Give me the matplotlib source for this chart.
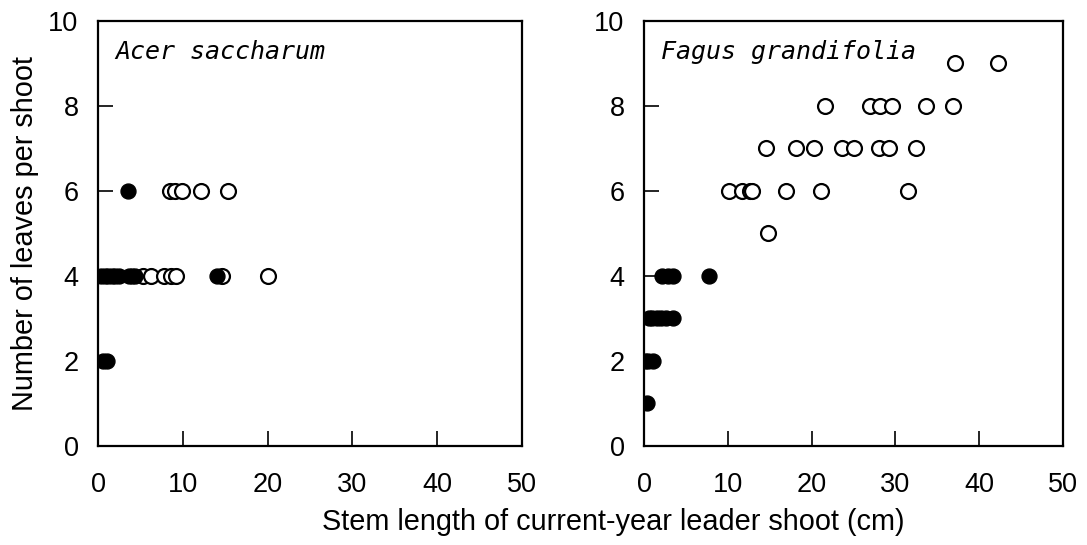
import numpy as np
import matplotlib
matplotlib.use("Agg")
import matplotlib.pyplot as plt

plt.rcParams['font.family'] = ['Liberation Sans', 'DejaVu Sans']

# Acer saccharum
acer_filled_x = [3.5, 0.4, 0.8, 1.2, 1.6, 2.0, 2.5, 3.6, 4.0, 4.4, 14.0, 0.6, 1.0]
acer_filled_y = [6, 4, 4, 4, 4, 4, 4, 4, 4, 4, 4, 2, 2]
acer_open_x = [8.5, 9.1, 9.9, 12.1, 15.3, 5.3, 6.3, 7.8, 8.6, 9.2, 14.6, 20.0]
acer_open_y = [6, 6, 6, 6, 6, 4, 4, 4, 4, 4, 4, 4]

# Fagus grandifolia
fagus_filled_x = [2.2, 2.8, 3.4, 7.7, 0.6, 1.0, 1.5, 2.0, 2.6, 3.5, 0.1, 0.5, 1.1, 0.3]
fagus_filled_y = [4, 4, 4, 4, 3, 3, 3, 3, 3, 3, 2, 2, 2, 1]
fagus_open_x = [37.1, 42.2,
                21.6, 27.0, 28.1, 29.6, 33.6, 36.9,
                14.5, 18.1, 20.3, 23.6, 25.1, 28.0, 29.2, 32.5,
                10.1, 11.7, 12.6, 12.9, 16.9, 21.1, 31.5,
                14.8]
fagus_open_y = [9, 9,
                8, 8, 8, 8, 8, 8,
                7, 7, 7, 7, 7, 7, 7, 7,
                6, 6, 6, 6, 6, 6, 6,
                5]

panels = [
    ("Acer saccharum", acer_filled_x, acer_filled_y, acer_open_x, acer_open_y),
    ("Fagus grandifolia", fagus_filled_x, fagus_filled_y, fagus_open_x, fagus_open_y),
]

fig = plt.figure(figsize=(10.87, 5.45), dpi=100)
ax1 = fig.add_axes([0.0902, 0.1817, 0.390, 0.780])
ax2 = fig.add_axes([0.5925, 0.1817, 0.3855, 0.780])

for ax, (name, fx, fy, ox, oy) in zip([ax1, ax2], panels):
    ax.scatter(ox, oy, s=115, facecolors='white', edgecolors='black', linewidths=1.6, zorder=3)
    ax.scatter(fx, fy, s=115, facecolors='black', edgecolors='black', linewidths=1.0, zorder=4)
    ax.set_xlim(0, 50)
    ax.set_ylim(0, 10)
    ax.set_xticks([0, 10, 20, 30, 40, 50])
    ax.set_yticks([0, 2, 4, 6, 8, 10])
    ax.tick_params(direction='in', length=11, width=1.2, labelsize=19.5,
                   top=False, right=False)
    ax.tick_params(axis='x', pad=19)
    ax.tick_params(axis='y', pad=14)
    for sp in ax.spines.values():
        sp.set_linewidth(1.6)
    ax.text(0.04, 0.955, name, transform=ax.transAxes, ha='left', va='top',
            fontsize=18, style='italic', family='DejaVu Sans Mono')

ax1.set_ylabel("Number of leaves per shoot", fontsize=20.8)
ax1.yaxis.set_label_coords(-0.14, 0.5)
fig.text(0.564, 0.042, "Stem length of current-year leader shoot (cm)",
         ha='center', va='center', fontsize=20.8)

fig.savefig("out.png", dpi=100)
